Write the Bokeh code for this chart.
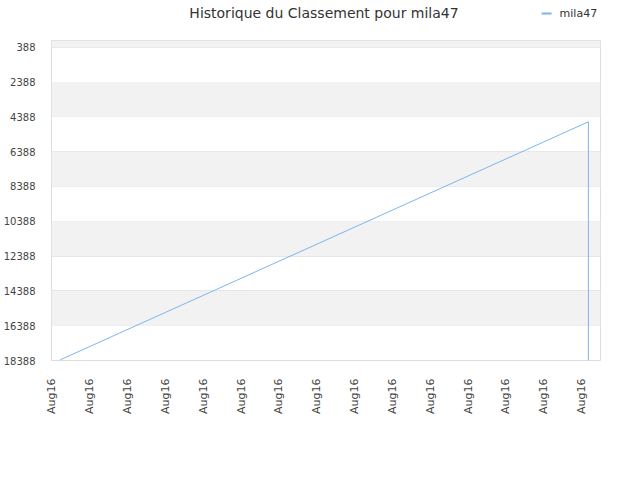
from bokeh.plotting import figure
from bokeh.layouts import column
from bokeh.models import (Range1d, FixedTicker, BoxAnnotation, ColumnDataSource, Label)
from bokeh.embed import file_html
from bokeh.resources import INLINE
import math

# ---- data ----
title_text = "Historique du Classement pour mila47"
series_name = "mila47"
x_vals = [0.22, 14.18, 14.18]       # position along date axis (tick units)
ranks = [18350, 4670, 18388]        # ranking values
x_tick_pos = list(range(15))
x_tick_labels = ["Aug16"] * 15
y_ticks = [388, 2388, 4388, 6388, 8388, 10388, 12388, 14388, 16388, 18388]

FONT = "DejaVu Sans"
LINE_COLOR = "#7cb5ec"
W = 632

# ---- header (title + legend key); its frame is aligned with the chart frame (50..600 px) ----
hdr = figure(width=W, height=40, output_backend="svg", toolbar_location=None,
             x_range=Range1d(50, 600), y_range=Range1d(40, 0),
             x_axis_type=None, y_axis_type=None, min_border=0)
hdr.outline_line_color = None
hdr.grid.visible = False
hdr.background_fill_color = "white"
hdr.border_fill_color = "white"
hdr.add_layout(Label(x=323, y=12, text=title_text, text_align="center", text_baseline="middle",
                     text_font=FONT, text_font_size="14px", text_color="#333333"))
key_src = ColumnDataSource(dict(x=[541, 551], y=[13, 13]))
hdr.line("x", "y", source=key_src, line_color=LINE_COLOR, line_width=2)
hdr.add_layout(Label(x=559, y=13, text=series_name, text_align="left", text_baseline="middle",
                     text_font=FONT, text_font_size="11px", text_color="#333333"))

# ---- main chart ----
p = figure(width=W, height=432, output_backend="svg", toolbar_location=None,
           x_range=Range1d(-0.01, 14.5), y_range=Range1d(18388, 0),
           min_border_left=50, min_border_right=32, min_border_top=0, min_border_bottom=112)

p.outline_line_color = "#dddddd"
p.background_fill_color = "white"
p.border_fill_color = "white"

band_edges = [(0, y_ticks[0])] + [(y_ticks[i], y_ticks[i + 1]) for i in range(1, len(y_ticks) - 1, 2)]
for top, bottom in band_edges:
    p.add_layout(BoxAnnotation(top=top, bottom=bottom, fill_color="#f2f2f2", fill_alpha=1.0,
                               line_alpha=0, level="underlay"))

p.xgrid.visible = False
p.ygrid.ticker = FixedTicker(ticks=y_ticks)
p.ygrid.grid_line_color = "#e6e6e6"
p.ygrid.level = "underlay"

src = ColumnDataSource(dict(x=x_vals, y=ranks))
r = p.line("x", "y", source=src, line_color=LINE_COLOR, line_width=1)

p.yaxis.ticker = FixedTicker(ticks=y_ticks)
p.yaxis.axis_line_color = None
p.yaxis.major_tick_line_color = None
p.yaxis.minor_tick_line_color = None
p.yaxis.major_label_standoff = 10
p.yaxis.major_label_text_font = FONT
p.yaxis.major_label_text_font_size = "10px"
p.yaxis.major_label_text_color = "#444444"

p.xaxis.ticker = FixedTicker(ticks=x_tick_pos)
p.xaxis.major_label_overrides = {t: lab for t, lab in zip(x_tick_pos, x_tick_labels)}
p.xaxis.major_label_orientation = math.pi / 2
p.xaxis.axis_line_color = None
p.xaxis.major_tick_line_color = None
p.xaxis.minor_tick_line_color = None
p.xaxis.major_label_standoff = 12
p.xaxis.major_label_text_font = FONT
p.xaxis.major_label_text_font_size = "11px"
p.xaxis.major_label_text_color = "#444444"

layout = column(hdr, p, spacing=0)
open("out.html", "w").write(file_html(layout, INLINE))
